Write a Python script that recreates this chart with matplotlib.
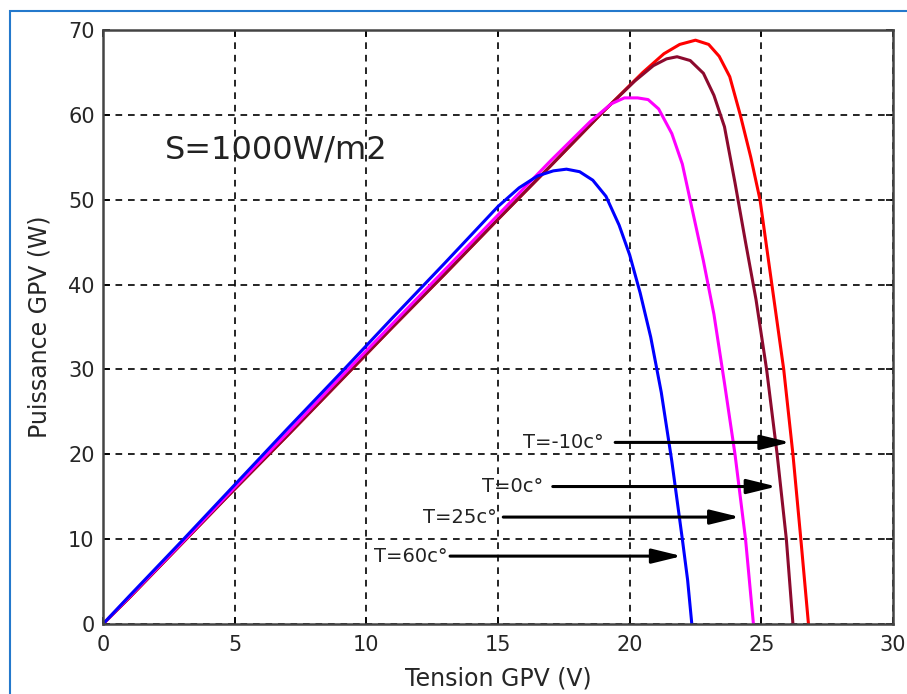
import matplotlib
matplotlib.use("Agg")
import matplotlib.pyplot as plt
from matplotlib.patches import Rectangle

# courbes P(V), S = 1000 W/m2
V_m10 = [0, 1, 3, 5, 7, 9, 11, 13, 15, 17, 19, 20.5, 21.3, 21.9, 22.5, 23.0, 23.4, 23.8, 24.2, 24.6, 24.95, 25.4, 25.85, 26.2, 26.5, 26.79]
P_m10 = [0, 3.1, 9.5, 15.9, 22.2, 28.6, 35.0, 41.3, 47.7, 54.0, 60.4, 65.0, 67.2, 68.3, 68.8, 68.3, 66.9, 64.5, 60.0, 55.0, 50.0, 40.0, 30.0, 20.0, 10.0, 0]

V_0 = [0, 1, 3, 5, 7, 9, 11, 13, 15, 17, 19, 20.2, 20.9, 21.4, 21.8, 22.3, 22.8, 23.2, 23.6, 24.0, 24.4, 24.8, 25.2, 25.6, 25.95, 26.2]
P_0 = [0, 3.1, 9.5, 15.9, 22.2, 28.6, 35.0, 41.3, 47.7, 54.0, 60.4, 64.0, 65.8, 66.6, 66.85, 66.4, 64.9, 62.3, 58.6, 52.0, 45.0, 38.2, 30.0, 20.0, 10.0, 0]

V_25 = [0, 1, 3, 5, 7, 9, 11, 13, 15, 17, 18.5, 19.3, 19.8, 20.3, 20.7, 21.1, 21.6, 22.0, 22.4, 22.8, 23.2, 23.6, 24.0, 24.4, 24.7]
P_25 = [0, 3.2, 9.6, 16.1, 22.5, 29.0, 35.4, 41.8, 48.2, 54.6, 59.2, 61.3, 62.0, 62.0, 61.8, 60.7, 57.8, 54.2, 48.5, 42.8, 36.5, 28.4, 20.0, 10.0, 0]

V_60 = [0, 1, 3, 5, 7, 9, 11, 13, 15, 15.8, 16.5, 17.1, 17.6, 18.1, 18.6, 19.1, 19.6, 20.0, 20.4, 20.8, 21.2, 21.6, 22.0, 22.2, 22.36]
P_60 = [0, 3.3, 9.8, 16.4, 23.0, 29.5, 36.1, 42.6, 49.2, 51.4, 52.8, 53.4, 53.6, 53.3, 52.3, 50.4, 47.0, 43.5, 39.0, 33.8, 27.3, 19.2, 10.0, 5.2, 0]

# etiquettes: (texte, fin du texte en V, P, debut fleche, pointe fleche)
labels = ["T=-10c°", "T=0c°", "T=25c°", "T=60c°"]
label_v = [19.0, 16.7, 14.97, 13.1]
label_p = [21.4, 16.2, 12.6, 8.0]
arrow_start = [19.45, 17.08, 15.2, 13.18]
arrow_tip = [26.1, 25.58, 24.19, 21.98]

fig = plt.figure(figsize=(9.07, 6.94), dpi=100)
fig.patches.append(Rectangle((10/907, -0.1), 1.0, 1 - 11/694 + 0.1, transform=fig.transFigure,
                             fill=False, edgecolor="#2479cc", lw=1.5))
ax = fig.add_axes([103/907, 1 - 624/694, 790/907, 594/694])

ax.plot(V_m10, P_m10, color="#ff0000", lw=2.2)
ax.plot(V_0, P_0, color="#8c0a2e", lw=2.2)
ax.plot(V_25, P_25, color="#ff00ff", lw=2.2)
ax.plot(V_60, P_60, color="#0000ff", lw=2.2)

for txt, lv, lp, a0, a1 in zip(labels, label_v, label_p, arrow_start, arrow_tip):
    ax.text(lv, lp, txt, ha="right", va="center", fontsize=14, color="#222222")
    ax.annotate("", xy=(a1, lp), xytext=(a0, lp),
                arrowprops=dict(arrowstyle="-|>,head_length=0.9,head_width=0.22",
                                color="k", lw=2.2, mutation_scale=20,
                                shrinkA=0, shrinkB=0))

ax.text(2.36, 55.85, "S=1000W/m2", ha="left", va="center", fontsize=23, color="#222222")

ax.set_xlim(0, 30)
ax.set_ylim(0, 70)
ax.set_xticks(range(0, 31, 5))
ax.set_yticks(range(0, 71, 10))
ax.grid(True, color="k", linestyle=(0, (4, 3.5)), lw=1.2)
ax.tick_params(direction="in", top=True, right=True, length=5, width=1.2,
               labelsize=15, labelcolor="#262626")
ax.tick_params(axis="x", pad=8)
ax.tick_params(axis="y", pad=6)
for s in ax.spines.values():
    s.set_color("#444444")
    s.set_linewidth(1.8)
ax.set_xlabel("Tension GPV (V)", fontsize=17, color="#262626", labelpad=8)
ax.set_ylabel("Puissance GPV (W)", fontsize=17, color="#262626", labelpad=12)

fig.savefig("out.png", dpi=100)
